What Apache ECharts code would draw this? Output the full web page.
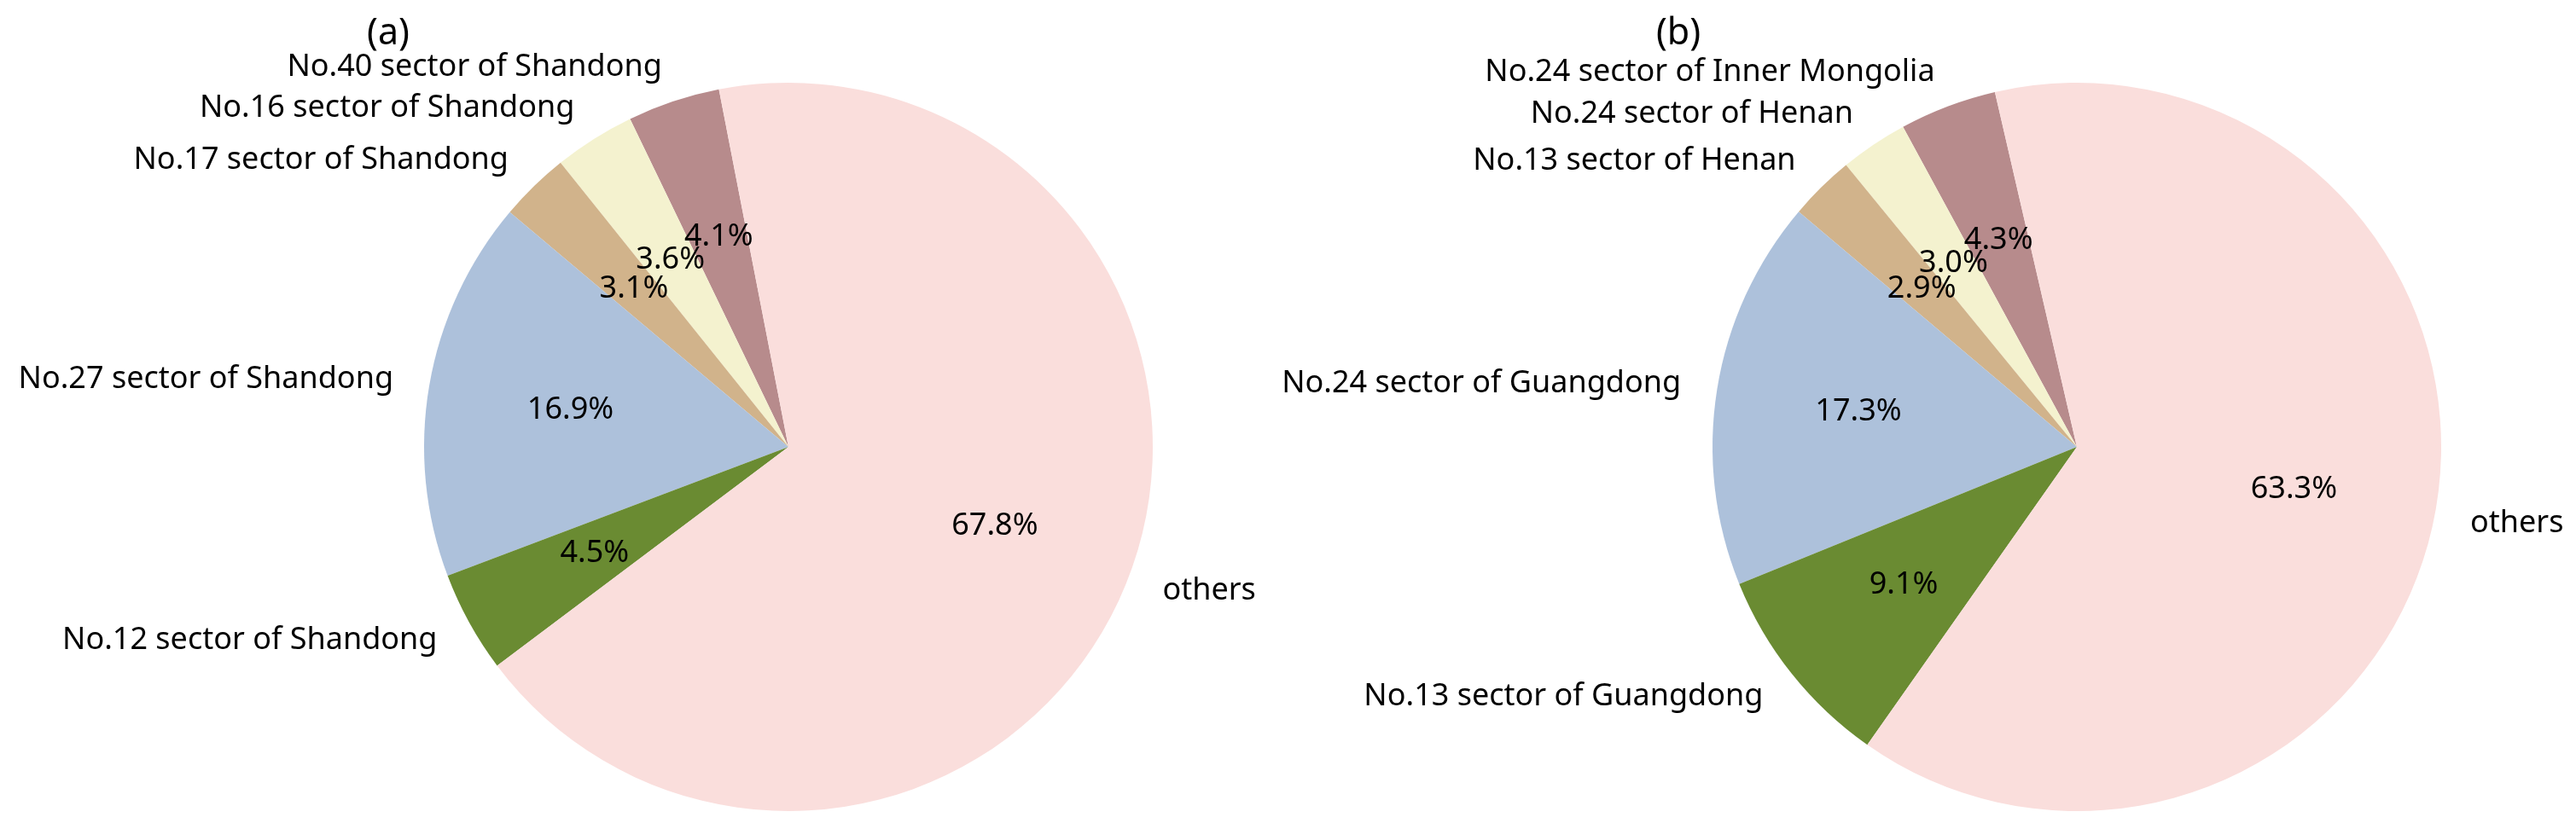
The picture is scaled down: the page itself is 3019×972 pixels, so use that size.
<!DOCTYPE html>
<html><head><meta charset="utf-8">
<script src="https://cdn.jsdelivr.net/npm/echarts@6/dist/echarts.min.js"></script>
<style>html,body{margin:0;padding:0;background:#fff}#c{width:3019px;height:972px}</style>
</head><body><div id="c"></div>
<script>
const namesA = ['No.40 sector of Shandong','No.16 sector of Shandong','No.17 sector of Shandong','No.27 sector of Shandong','No.12 sector of Shandong','others'];
const valuesA = [4.1, 3.6, 3.1, 16.9, 4.5, 67.8];
const namesB = ['No.24 sector of Inner Mongolia','No.24 sector of Henan','No.13 sector of Henan','No.24 sector of Guangdong','No.13 sector of Guangdong','others'];
const valuesB = [4.3, 3.0, 2.9, 17.3, 9.1, 63.3];
const sliceColors = ['#B78B8C','#F4F2CF','#D1B38B','#ADC1DB','#6A8B32','#FADEDC'];
const panelTitles = ['(a)', '(b)'];

const FONT = '"Noto Sans", "Open Sans", sans-serif';
const R = 427;

function pieSeries(names, values, center, startAngle) {
  const base = {
    type: 'pie', center: center, startAngle: startAngle, clockwise: false,
    silent: true, animation: false, avoidLabelOverlap: false,
    labelLayout: { hideOverlap: false }
  };
  return [
    Object.assign({}, base, {
      radius: R,
      itemStyle: { borderWidth: 0 },
      label: { show: true, position: 'outside', formatter: '{b}', color: '#000',
               fontSize: 36, fontFamily: FONT, distanceToLabelLine: 0 },
      labelLine: { show: false, length: R * 0.1, length2: 0 },
      data: names.map((n, i) => ({ name: n, value: values[i], itemStyle: { color: sliceColors[i] } }))
    }),
    Object.assign({}, base, {
      radius: [R * 0.2, R],
      itemStyle: { color: 'rgba(0,0,0,0)', borderWidth: 0 },
      label: { show: true, position: 'inside', color: '#000', fontSize: 36, fontFamily: FONT,
               formatter: p => p.value.toFixed(1) + '%' },
      labelLine: { show: false },
      data: names.map((n, i) => ({ name: n, value: values[i] }))
    })
  ];
}

const chart = echarts.init(document.getElementById('c'), null, { renderer: 'canvas' });
chart.setOption({
  backgroundColor: '#fff',
  animation: false,
  graphic: [
    { type: 'text', x: 455, y: 40, style: { text: panelTitles[0], fontSize: 43, fontFamily: FONT, fill: '#000', align: 'center', verticalAlign: 'middle' } },
    { type: 'text', x: 1967, y: 40, style: { text: panelTitles[1], fontSize: 43, fontFamily: FONT, fill: '#000', align: 'center', verticalAlign: 'middle' } }
  ],
  series: [].concat(
    pieSeries(namesA, valuesA, [924, 524], 101),
    pieSeries(namesB, valuesB, [2434, 524], 103)
  )
});
</script>
</body></html>
